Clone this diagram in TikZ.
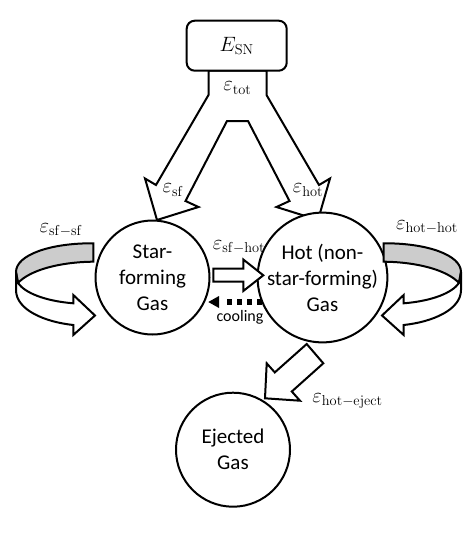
\documentclass[tikz,border=0pt]{standalone}
\usepackage[no-math]{fontspec}
\setmainfont{Carlito}
\newcommand\myribbon{%
  \filldraw[fill=gray!40] (93.3,243.3) .. controls (50,243) and (16,255) .. (16,272)
     -- (18,283) .. controls (30,270) and (60,262) .. (93.3,261.7) -- cycle;
  \filldraw[fill=white] (16,272) -- (16,290) .. controls (16,310) and (45,322) .. (73.3,325)
     -- (73.3,335) -- (95,315.5) -- (73.3,295) -- (73.3,303.3)
     .. controls (45,301) and (25,293) .. (18,283) -- cycle;
}
\begin{document}
\begin{tikzpicture}[x=1pt,y=-1pt,line width=2pt,
  gas/.style={circle, draw, fill=white, minimum size=114pt, inner sep=0pt, align=center,
    font=\fontsize{21}{26}\selectfont},
  lbl/.style={font=\fontsize{22}{26}\selectfont, inner sep=0pt},
  blk/.style={draw, fill=white, line join=miter},
]
\useasboundingbox (0,0) rectangle (474,543);

% fork arrow from E_SN
\draw[blk] (208.5,70.7) -- (208.5,95) -- (156,185) -- (145,178.5) -- (157,220)
  -- (198.5,207) -- (185.5,201) -- (227,121) -- (248,121) -- (289.5,201)
  -- (276.5,207) -- (318,220) -- (330,178.5) -- (319,185) -- (266.5,95)
  -- (266.5,70.7) -- cycle;
\node[draw, fill=white, rounded corners=8pt, minimum width=100pt, minimum height=50pt,
  font=\fontsize{20}{24}\selectfont] (esn) at (236.7,45.7) {$E_{\mathrm{SN}}$};

% gas reservoirs
\node[gas] (sf) at (152.5,277.5) {Star-\\forming\\Gas};
\node[gas] (hot) at (322.5,277.5) {Hot (non-\\star-forming)\\Gas};
\node[gas] (ej) at (233,449.7) {Ejected\\Gas};

% sf -> hot block arrow
\draw[blk] (213.3,268.5) -- (243.3,268.5) -- (243.3,259.5) -- (263.3,275.3) -- (243.3,291)
  -- (243.3,281.5) -- (213.3,281.5) -- cycle;

% cooling
\coordinate (cs) at (261.7,302);
\coordinate (ce) at (226.7,302);
\draw[line width=5.5pt, dash pattern=on 5pt off 5pt] (cs) -- (ce);
\fill (219,296) -- (208.3,302) -- (219,308) -- cycle;

% eject arrow
\draw[blk] (306.7,344) -- (274.8,372.4) -- (266.7,363.3) -- (265,398.3) -- (300,400.7)
  -- (291.8,391.5) -- (323.3,363.3) -- cycle;

% self-loop ribbons
\myribbon
\begin{scope}[shift={(477,0)}, xscale=-1]
\myribbon
\end{scope}

% labels
\node[lbl] (ltot) at (237.3,88) {$\varepsilon_{\mathrm{tot}}$};
\node[lbl] (lsf) at (173,190) {$\varepsilon_{\mathrm{sf}}$};
\node[lbl] (lhot) at (308,190) {$\varepsilon_{\mathrm{hot}}$};
\node[lbl] (lsfsf) at (61,230) {$\varepsilon_{\mathrm{sf}-\mathrm{sf}}$};
\node[lbl] (lhh) at (427,227) {$\varepsilon_{\mathrm{hot}-\mathrm{hot}}$};
\node[lbl] (lsh) at (239,247) {$\varepsilon_{\mathrm{sf}-\mathrm{hot}}$};
\node[font=\fontsize{16}{19}\selectfont, inner sep=0pt] (cool) at (240,317) {cooling};
\node[lbl] (lhe) at (347.5,401) {$\varepsilon_{\mathrm{hot}-\mathrm{eject}}$};
\end{tikzpicture}
\end{document}
